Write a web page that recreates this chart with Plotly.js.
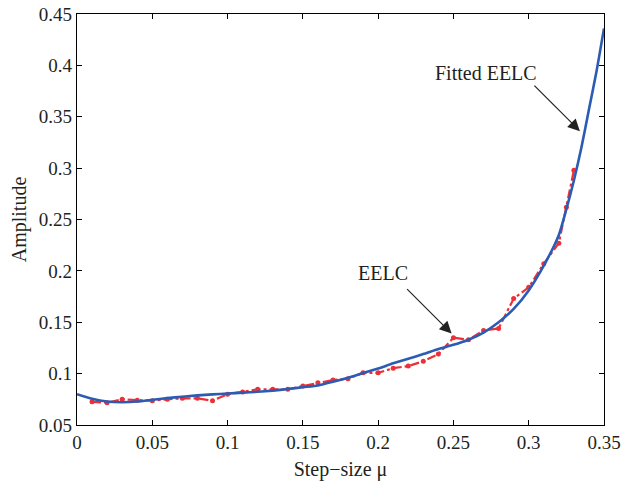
<!DOCTYPE html>
<html>
<head>
<meta charset="utf-8">
<script src="https://cdn.plot.ly/plotly-3.0.1.min.js"></script>
<style>html,body{margin:0;padding:0;background:#fff;}#chart{width:628px;height:482px;}</style>
</head>
<body>
<div id="chart"></div>
<script>
// EELC (measured) data
const eelcX = [0.01,0.02,0.03,0.04,0.05,0.06,0.07,0.08,0.09,0.10,0.11,0.12,0.13,0.14,0.15,0.16,0.17,0.18,0.19,0.20,0.21,0.22,0.23,0.24,0.25,0.26,0.27,0.28,0.29,0.30,0.31,0.32,0.325,0.33];
const eelcY = [0.0726,0.0717,0.075,0.074,0.0736,0.075,0.076,0.076,0.0736,0.080,0.082,0.0847,0.0847,0.0847,0.0879,0.091,0.0937,0.095,0.1008,0.1008,0.1053,0.1073,0.112,0.119,0.135,0.133,0.142,0.144,0.173,0.184,0.207,0.227,0.262,0.298];
// Fitted EELC
const fitX = [0,0.01,0.02,0.03,0.04,0.05,0.06,0.07,0.08,0.09,0.10,0.11,0.12,0.13,0.14,0.15,0.16,0.17,0.18,0.19,0.20,0.21,0.22,0.23,0.24,0.25,0.26,0.27,0.28,0.29,0.30,0.31,0.32,0.325,0.33,0.335,0.34,0.345,0.35];
const fitY = [0.080,0.0755,0.0728,0.0722,0.0728,0.0745,0.0762,0.0775,0.0788,0.0798,0.0806,0.0815,0.0823,0.0835,0.0850,0.0868,0.0885,0.0920,0.0960,0.1005,0.1050,0.1100,0.1145,0.1190,0.1240,0.1280,0.1330,0.1400,0.1500,0.1630,0.1810,0.2050,0.2350,0.2600,0.2880,0.3200,0.3570,0.3940,0.4360];
// Ticks
const xTickVals = [0,0.05,0.1,0.15,0.2,0.25,0.3,0.35];
const xTickText = ['0','0.05','0.1','0.15','0.2','0.25','0.3','0.35'];
const yTickVals = [0.05,0.1,0.15,0.2,0.25,0.3,0.35,0.4,0.45];
const yTickText = ['0.05','0.1','0.15','0.2','0.25','0.3','0.35','0.4','0.45'];

const fam = '"Liberation Serif", "DejaVu Serif", serif';
const tickFont = {family: fam, size: 19, color: '#231f20'};
const titleFont = {family: fam, size: 20, color: '#231f20'};

const traces = [
  {x: eelcX, y: eelcY, type: 'scatter', mode: 'lines+markers', name: 'EELC',
   line: {color: '#ee2f36', width: 2.2, dash: 'dashdot'},
   marker: {color: '#ee2f36', size: 5}},
  {x: fitX, y: fitY, type: 'scatter', mode: 'lines', name: 'Fitted EELC',
   line: {color: '#2a5cb4', width: 2.6, shape: 'spline', smoothing: 0.6}}
];

const axisCommon = {showgrid: false, zeroline: false, showline: true, linecolor: '#000', linewidth: 1.3,
  mirror: 'ticks', ticks: 'inside', ticklen: 5, tickwidth: 1, tickcolor: '#000', tickfont: tickFont};

const layout = {
  width: 628, height: 482,
  margin: {l: 77, r: 24, t: 14, b: 57},
  paper_bgcolor: '#fff', plot_bgcolor: '#fff',
  showlegend: false,
  font: tickFont,
  xaxis: Object.assign({}, axisCommon, {range: [0, 0.35], tickmode: 'array', tickvals: xTickVals, ticktext: xTickText,
    title: {text: 'Step\u2212size \u03bc', font: titleFont, standoff: 10}}),
  yaxis: Object.assign({}, axisCommon, {range: [0.05, 0.45], tickmode: 'array', tickvals: yTickVals, ticktext: yTickText,
    title: {text: 'Amplitude', font: titleFont, standoff: 6}}),
  annotations: [
    {x: 0.334, y: 0.336, xref: 'x', yref: 'y', text: '', showarrow: true, ax: -47, ay: -47,
     arrowhead: 2, arrowsize: 2, arrowwidth: 1.2, arrowcolor: '#222', standoff: 0},
    {x: 0.2488, y: 0.139, xref: 'x', yref: 'y', text: '', showarrow: true, ax: -46, ay: -46,
     arrowhead: 2, arrowsize: 2, arrowwidth: 1.2, arrowcolor: '#222', standoff: 0},
    {x: 0.2715, y: 0.393, xref: 'x', yref: 'y', text: 'Fitted EELC', showarrow: false, font: titleFont},
    {x: 0.2035, y: 0.198, xref: 'x', yref: 'y', text: 'EELC', showarrow: false, font: titleFont}
  ]
};

Plotly.newPlot('chart', traces, layout, {displayModeBar: false, staticPlot: true});
</script>
</body>
</html>
